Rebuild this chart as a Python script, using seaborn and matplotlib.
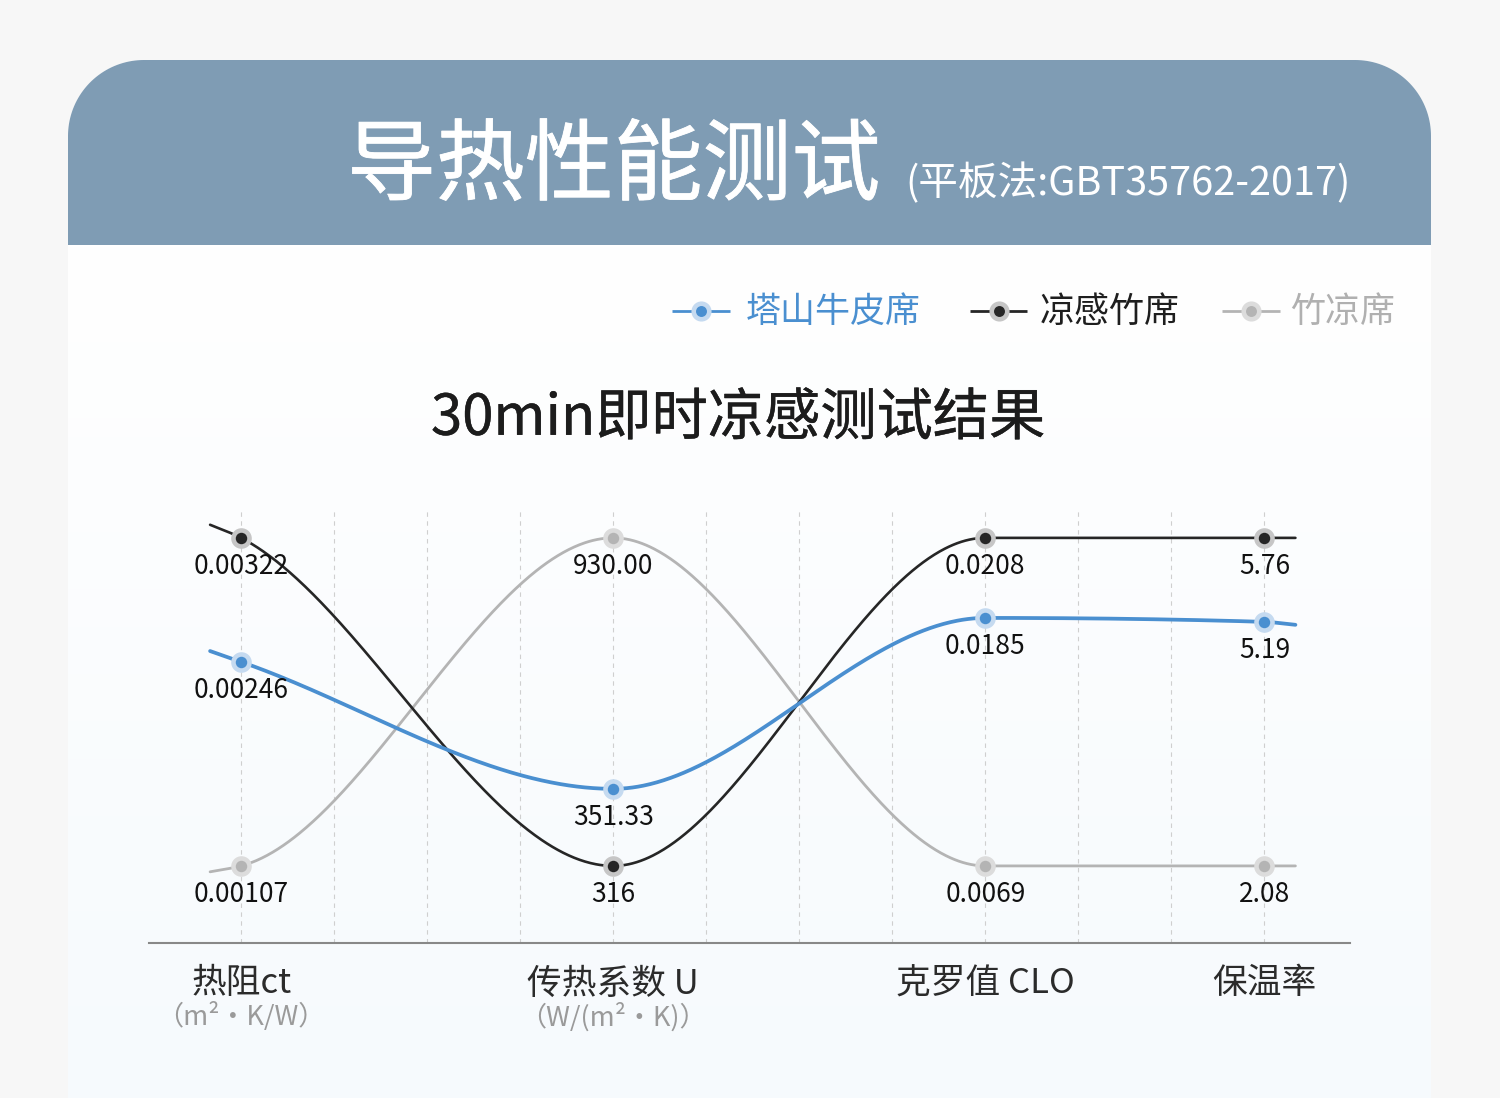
import numpy as np
import pandas as pd
import matplotlib
matplotlib.use("Agg")
import matplotlib.pyplot as plt
import matplotlib.patheffects as pe
import seaborn as sns
from matplotlib.path import Path
from matplotlib.patches import PathPatch
from matplotlib.transforms import blended_transform_factory

# ---------------- data ----------------
categories = ['热阻ct', '传热系数 U', '克罗值 CLO', '保温率']
category_units = ['（m²・K/W）', '（W/(m²・K)）', '', '']
category_pos = [0, 4, 8, 11]

series_names = ['塔山牛皮席', '凉感竹席', '竹凉席']
# plotted (relative) levels, 0-100
tashan_level = [62.2, 23.5, 75.6, 74.4]
liang_level = [100.0, 0.0, 100.0, 100.0]
zhu_level = [0.0, 100.0, 0.0, 0.0]
# curve levels at the two ends of the drawn lines (beyond the first / last point)
tashan_edge = [65.5, 73.5]
liang_edge = [104.0, 100.0]
zhu_edge = [-1.8, 0.0]
# value labels
tashan_labels = ['0.00246', '351.33', '0.0185', '5.19']
liang_labels = ['0.00322', '316', '0.0208', '5.76']
zhu_labels = ['0.00107', '930.00', '0.0069', '2.08']

title_main = '导热性能测试'
title_sub = '(平板法:GBT35762-2017)'
chart_title = '30min即时凉感测试结果'

# ---------------- style ----------------
sns.set_theme(style='white')
plt.rcParams['font.family'] = ['Noto Sans CJK SC', 'DejaVu Sans']

line_colors = ['#4a8fd0', '#262626', '#b4b4b4']
halo_colors = ['#c5daf0', '#c6c6c6', '#dcdcdc']
line_widths = [2.7, 1.9, 2.0]
legend_text_colors = ['#4a8fd0', '#1e1e1e', '#b0b0b0']

W, H = 1500, 1098
fig = plt.figure(figsize=(W / 100, H / 100), dpi=100)
fig.patch.set_facecolor('#f7f7f7')

bg = fig.add_axes([0, 0, 1, 1])
bg.set_xlim(0, W)
bg.set_ylim(H, 0)
bg.axis('off')
bg.set_zorder(0)


def top_rounded(x0, x1, y0, y1, r, n=40):
    pts = [(x0, y1), (x0, y0 + r)]
    t = np.linspace(np.pi, 1.5 * np.pi, n)
    pts += list(zip(x0 + r + r * np.cos(t), y0 + r + r * np.sin(t)))
    t = np.linspace(1.5 * np.pi, 2 * np.pi, n)
    pts += list(zip(x1 - r + r * np.cos(t), y0 + r + r * np.sin(t)))
    pts += [(x1, y1), (x0, y1)]
    return Path(pts, closed=True)


card_l, card_r, card_t, head_b, rad = 68, 1431, 60, 245, 76
card_path = top_rounded(card_l, card_r, card_t, H + 5, rad)
card_patch = PathPatch(card_path, facecolor='white', edgecolor='none', zorder=1)
bg.add_patch(card_patch)
grad = np.linspace(0, 1, 256)[:, None]
c_top = np.array([1.0, 1.0, 1.0])
c_bot = np.array([0xf6, 0xfa, 0xfd]) / 255
img = c_top + (c_bot - c_top) * grad[..., None]
img = np.repeat(img, 2, axis=1)
im = bg.imshow(img, extent=[card_l, card_r, H + 5, head_b], aspect='auto', zorder=1.5, interpolation='bilinear')
im.set_clip_path(card_patch)

head_path = top_rounded(card_l, card_r, card_t, head_b, rad)
bg.add_patch(PathPatch(head_path, facecolor='#7f9cb4', edgecolor='none', zorder=2))

bg.text(347, 168, title_main, color='white', fontsize=64, ha='left', va='center', zorder=3,
        path_effects=[pe.withStroke(linewidth=0.6, foreground='white')])
bg.text(905, 184, title_sub, color='white', fontsize=28.5, ha='left', va='center', zorder=3)

# legend
leg_x = [(672, 730, 746), (970, 1027, 1040), (1222, 1280, 1290)]
for i, name in enumerate(series_names):
    x0, x1, xt = leg_x[i]
    bg.plot([x0, x1], [311, 311], color=line_colors[i], lw=2.0, zorder=3, solid_capstyle='butt')
    xm = (x0 + x1) / 2
    bg.scatter([xm], [311], s=210, color=halo_colors[i], zorder=4, linewidths=0)
    bg.scatter([xm], [311], s=62, color=line_colors[i], zorder=5, linewidths=0)
    bg.text(xt, 312, name, color=legend_text_colors[i], fontsize=25.2, ha='left', va='center', zorder=3)

bg.text(738, 419, chart_title, color='#1c1c1c', fontsize=40.5, ha='center', va='center', zorder=3,
        path_effects=[pe.withStroke(linewidth=0.3, foreground='#1c1c1c')])

# ---------------- chart ----------------
ax_l, ax_r, ax_t, ax_b = 149, 1350, 510, 943
ax = fig.add_axes([ax_l / W, (H - ax_b) / H, (ax_r - ax_l) / W, (ax_b - ax_t) / H])
ax.set_zorder(5)
ax.patch.set_alpha(0)
ax.set_xlim(-0.99, 11.92)
ax.set_ylim(-23.5, 108.5)


def pchip(x, y, xs):
    x = np.asarray(x, float)
    y = np.asarray(y, float)
    h = np.diff(x)
    d = np.diff(y) / h
    n = len(x)
    m = np.zeros(n)
    for k in range(1, n - 1):
        if d[k - 1] * d[k] <= 0:
            m[k] = 0.0
        else:
            w1 = 2 * h[k] + h[k - 1]
            w2 = h[k] + 2 * h[k - 1]
            m[k] = (w1 + w2) / (w1 / d[k - 1] + w2 / d[k])
    m[0] = d[0]
    m[-1] = d[-1]
    out = np.empty_like(xs)
    idx = np.clip(np.searchsorted(x, xs) - 1, 0, n - 2)
    for j, xv in enumerate(xs):
        k = idx[j]
        t = (xv - x[k]) / h[k]
        h00 = 2 * t**3 - 3 * t**2 + 1
        h10 = t**3 - 2 * t**2 + t
        h01 = -2 * t**3 + 3 * t**2
        h11 = t**3 - t**2
        out[j] = h00 * y[k] + h10 * h[k] * m[k] + h01 * y[k + 1] + h11 * h[k] * m[k + 1]
    return out


levels = [tashan_level, liang_level, zhu_level]
edges = [tashan_edge, liang_edge, zhu_edge]
labels = [tashan_labels, liang_labels, zhu_labels]
ext = 1 / 3
xs = np.linspace(category_pos[0] - ext, category_pos[-1] + ext, 800)

rows = []
pts = []
for i, name in enumerate(series_names):
    xk = [category_pos[0] - ext] + category_pos + [category_pos[-1] + ext]
    yk = [edges[i][0]] + levels[i] + [edges[i][1]]
    ys = pchip(xk, yk, xs)
    rows.append(pd.DataFrame({'x': xs, 'y': ys, 'series': name}))
    pts.append(pd.DataFrame({'x': category_pos, 'y': levels[i], 'series': name, 'label': labels[i]}))
curves = pd.concat(rows, ignore_index=True)
points = pd.concat(pts, ignore_index=True)

draw_order = [2, 1, 0]
for i in draw_order:
    name = series_names[i]
    sub = curves[curves.series == name]
    sns.lineplot(data=sub, x='x', y='y', ax=ax, color=line_colors[i], lw=line_widths[i],
                 sort=False, estimator=None, legend=False, zorder=3 + (2 - i) * 0.1)
for i in draw_order:
    name = series_names[i]
    sp = points[points.series == name]
    sns.scatterplot(data=sp, x='x', y='y', ax=ax, s=220, color=halo_colors[i], linewidth=0,
                    legend=False, zorder=6, clip_on=False)
    sns.scatterplot(data=sp, x='x', y='y', ax=ax, s=68, color=line_colors[i], linewidth=0,
                    legend=False, zorder=7, clip_on=False)
    for _, r in sp.iterrows():
        ax.annotate(r['label'], (r['x'], r['y']), xytext=(0, -20.5), textcoords='offset points',
                    ha='center', va='center', fontsize=19, color='#111111', zorder=8)

ax.set_xticks(range(12))
ax.set_xticklabels([])
ax.set_yticks([])
ax.tick_params(axis='x', length=0)
ax.grid(axis='x', color='#cfcfcf', linestyle=(0, (4, 4)), lw=0.8)
ax.set_xlabel('')
ax.set_ylabel('')
for s in ['top', 'left', 'right']:
    ax.spines[s].set_visible(False)
ax.spines['bottom'].set_color('#888888')
ax.spines['bottom'].set_linewidth(1.5)

tr = blended_transform_factory(ax.transData, bg.transData)
for c, u, xp in zip(categories, category_units, category_pos):
    ax.text(xp, 984, c, transform=tr, ha='center', va='center', fontsize=25, color='#2b2b2b')
    if u:
        ax.text(xp, 1017, u, transform=tr, ha='center', va='center', fontsize=19.5, color='#9a9a9a')

fig.savefig('out.png', dpi=100, facecolor=fig.get_facecolor())
